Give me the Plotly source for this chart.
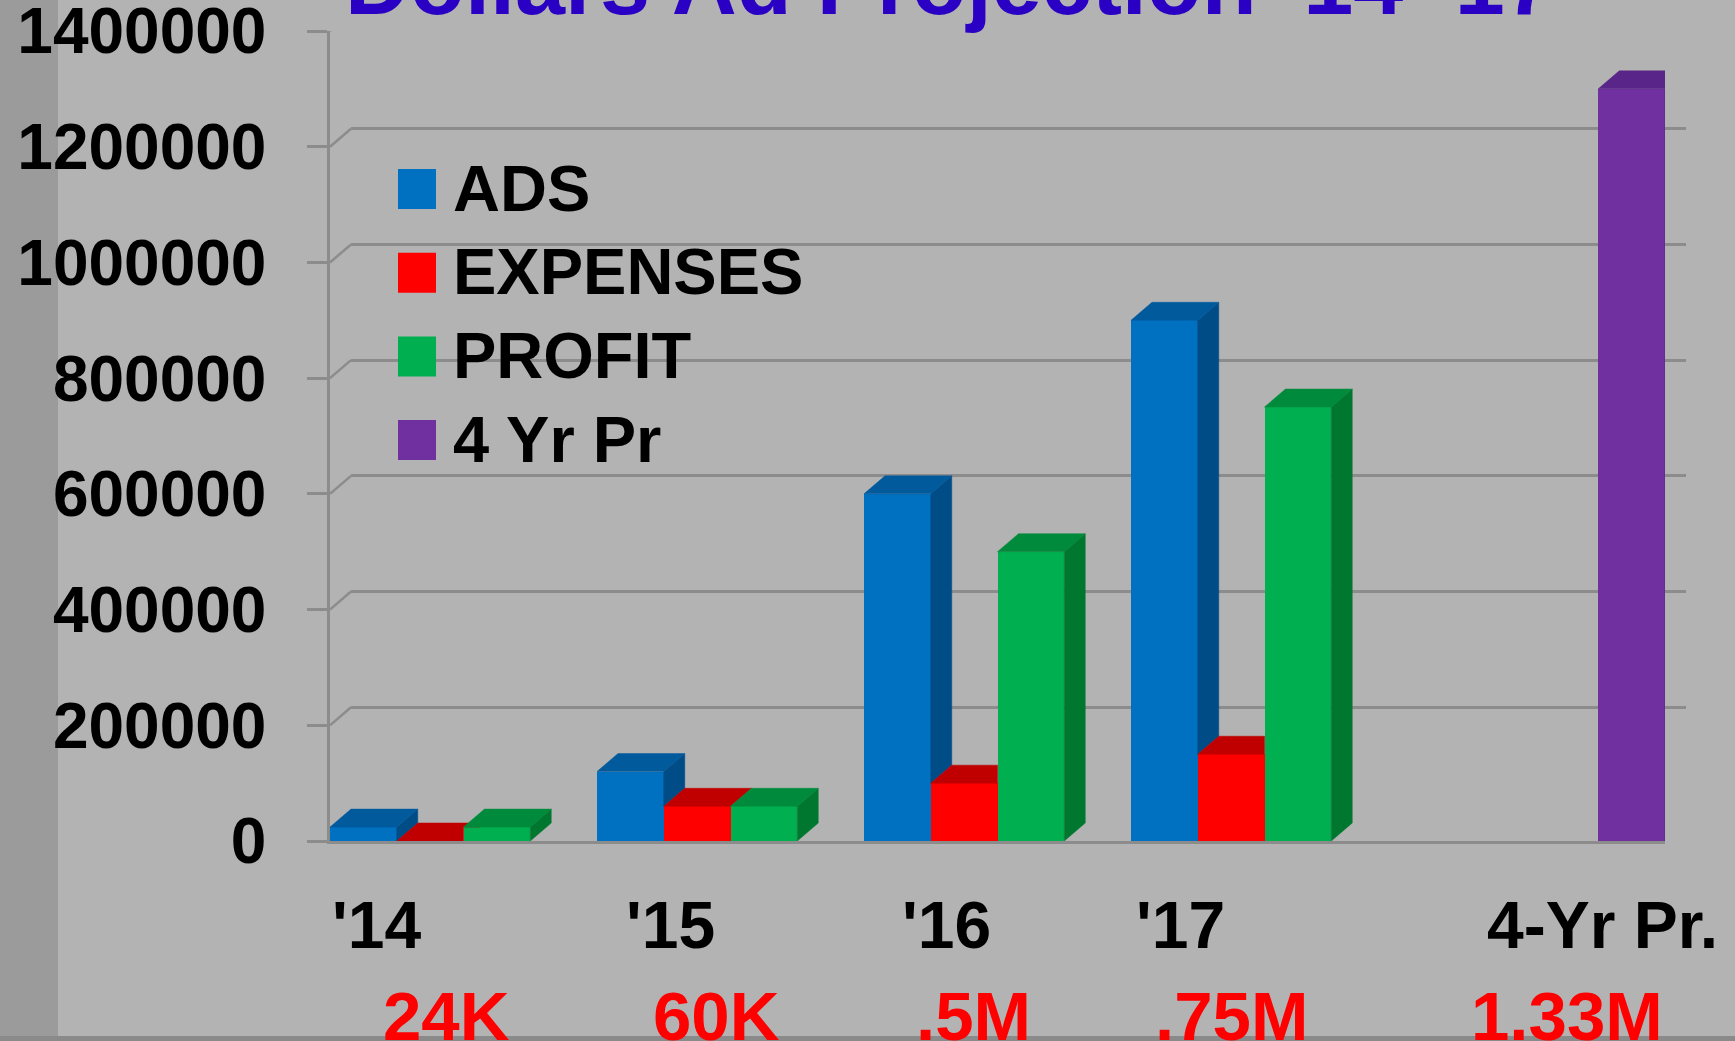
import plotly.graph_objects as go

# ---------------- data ----------------
categories = ["'14", "'15", "'16", "'17", "4-Yr Pr."]
series_names = ["ADS", "EXPENSES", "PROFIT", "4 Yr Pr"]
ads = [24000, 120000, 600000, 900000, None]
expenses = [0, 60000, 100000, 150000, None]
profit = [24000, 60000, 500000, 750000, None]
four_yr_pr = [None, None, None, None, 1300000]
profit_labels = ["24K", "60K", ".5M", ".75M", "1.33M"]
y_ticks = [0, 200000, 400000, 600000, 800000, 1000000, 1200000, 1400000]
title_text = "Dollars Ad Projection '14-'17"

# ---------------- styles / geometry ----------------
W, H = 1735, 1041
front_colors = ["#0070C0", "#FF0000", "#00B050", "#7030A0"]
top_colors = ["#005A9C", "#C00000", "#008A3C", "#5A2588"]
side_colors = ["#004C86", "#A00000", "#00772F", "#4A1E6E"]
GRID = "#8c8c8c"
BG = "#b3b3b3"
FONT = "Liberation Sans, Arial, sans-serif"

FRONT_X = (330, 1665)   # px of x range ends (front plane)
FRONT_Y = (841, 31)     # px of y=0 and y=YMAX (front plane)
DEPTH = (21, 18)        # 3-D depth offset in px (right, up)
YMAX = 1400000


def px(x):
    return x / W


def py(y):
    return (H - y) / H


ncat = len(categories)
nser = len(series_names)
slot = 1.0 / nser
ddx = DEPTH[0] / ((FRONT_X[1] - FRONT_X[0]) / ncat)
ddy = DEPTH[1] / ((FRONT_Y[0] - FRONT_Y[1]) / YMAX)
values = [ads, expenses, profit, four_yr_pr]
xs = list(range(ncat))

fig = go.Figure()

# dummy trace so the back-wall (grid) subplot exists
fig.add_trace(go.Scatter(x=[None], y=[None], xaxis="x", yaxis="y",
                         showlegend=False, hoverinfo="skip"))

# front faces
for s in range(nser):
    fig.add_trace(go.Bar(
        x=xs, y=values[s], name=series_names[s], xaxis="x2", yaxis="y2",
        marker=dict(color=front_colors[s], line=dict(width=0)),
        showlegend=False,
    ))

# side and top faces (drawn left-to-right inside each group)
for s in range(nser):
    sx, sy, tx, ty = [], [], [], []
    for c in range(ncat):
        v = values[s][c]
        if v is None:
            continue
        x0 = c - 0.5 + s * slot
        x1 = x0 + slot
        nxt = values[s + 1][c] if s + 1 < nser else None
        base = nxt if nxt is not None else 0
        if base < v:
            sx += [x1, x1 + ddx, x1 + ddx, x1, x1, None]
            sy += [base, base + ddy, v + ddy, v, base, None]
        h = nxt if nxt is not None else v
        h = min(max(h, v), v + ddy)
        pts = [(x0, v), (x1, v)]
        if h > v:
            pts.append((x1, h))
        if h < v + ddy:
            if h > v:
                pts.append((x1 + (h - v) / ddy * ddx, h))
            pts.append((x1 + ddx, v + ddy))
        pts.append((x0 + ddx, v + ddy))
        pts.append((x0, v))
        tx += [p[0] for p in pts] + [None]
        ty += [p[1] for p in pts] + [None]
    fig.add_trace(go.Scatter(x=sx, y=sy, xaxis="x2", yaxis="y2", mode="lines",
                             fill="toself", fillcolor=side_colors[s],
                             line=dict(color=side_colors[s], width=0.5),
                             showlegend=False, hoverinfo="skip"))
    fig.add_trace(go.Scatter(x=tx, y=ty, xaxis="x2", yaxis="y2", mode="lines",
                             fill="toself", fillcolor=top_colors[s],
                             line=dict(color=top_colors[s], width=0.5),
                             showlegend=False, hoverinfo="skip"))

shapes = []
# darker strip at left and bottom border
shapes.append(dict(type="rect", xref="paper", yref="paper", x0=0, x1=px(58), y0=0, y1=1,
                   fillcolor="#9b9b9b", line=dict(width=0), layer="below"))
shapes.append(dict(type="rect", xref="paper", yref="paper", x0=0, x1=1, y0=0, y1=py(1036),
                   fillcolor="#8a8a8a", line=dict(width=0), layer="above"))
# side-wall diagonals
for t in y_ticks:
    shapes.append(dict(type="line", xref="x2", yref="y2", x0=-0.5, y0=t,
                       x1=-0.5 + ddx, y1=t + ddy, line=dict(color=GRID, width=2.5),
                       layer="below"))

annotations = []
# title (cut off at the top, as in the original picture)
annotations.append(dict(text=title_text, xref="paper", yref="paper", x=px(343), y=py(-17),
                        xanchor="left", yanchor="middle", showarrow=False,
                        font=dict(family=FONT, size=90, color="#2A00C4", weight="bold")))
# category labels
cat_label_x = [376, 670, 946, 1180, 1602]
for lab, x in zip(categories, cat_label_x):
    annotations.append(dict(text=lab, xref="paper", yref="paper", x=px(x), y=py(925),
                            xanchor="center", yanchor="middle", showarrow=False,
                            font=dict(family=FONT, size=66, color="black", weight="bold")))
profit_label_x = [446, 716, 974, 1231, 1567]
for lab, x in zip(profit_labels, profit_label_x):
    annotations.append(dict(text=lab, xref="paper", yref="paper", x=px(x), y=py(1016),
                            xanchor="center", yanchor="middle", showarrow=False,
                            font=dict(family=FONT, size=69, color="#FF0000", weight="bold")))
# legend
for i, (nm, col) in enumerate(zip(series_names, front_colors)):
    cy = 189 + 83.7 * i
    shapes.append(dict(type="rect", xref="paper", yref="paper", x0=px(398), x1=px(436),
                       y0=py(cy + 20), y1=py(cy - 20), fillcolor=col, line=dict(width=0),
                       layer="above"))
    annotations.append(dict(text=nm, xref="paper", yref="paper", x=px(451), y=py(cy - 1),
                            xanchor="left", yanchor="middle", showarrow=False,
                            font=dict(family=FONT, size=65, color="black", weight="bold")))

fig.update_layout(
    template="none",
    width=W, height=H, autosize=False,
    margin=dict(l=0, r=0, t=0, b=0, pad=0),
    paper_bgcolor=BG, plot_bgcolor="rgba(0,0,0,0)",
    barmode="group", bargap=0, bargroupgap=0,
    showlegend=False,
    xaxis=dict(domain=[px(FRONT_X[0] + DEPTH[0]), px(FRONT_X[1] + DEPTH[0])],
               range=[-0.5, ncat - 0.5], showgrid=False, showticklabels=False,
               zeroline=False, showline=False, anchor="y", automargin=False, ticks=""),
    yaxis=dict(domain=[py(FRONT_Y[0] - DEPTH[1]), py(FRONT_Y[1] - DEPTH[1])],
               range=[0, YMAX], tickvals=y_ticks, showgrid=True, gridcolor=GRID,
               gridwidth=3, showticklabels=False, zeroline=False, showline=False,
               anchor="x", automargin=False, ticks=""),
    xaxis2=dict(domain=[px(FRONT_X[0]), px(FRONT_X[1])], range=[-0.5, ncat - 0.5],
                anchor="y2", showgrid=False, showticklabels=False, zeroline=False,
                showline=True, linecolor=GRID, linewidth=3, automargin=False, ticks=""),
    yaxis2=dict(domain=[py(FRONT_Y[0]), py(FRONT_Y[1])], range=[0, YMAX], anchor="x2",
                tickvals=y_ticks, tickformat="d", showgrid=False, zeroline=False,
                ticks="outside", ticklen=20, tickwidth=3, tickcolor=GRID,
                showline=True, linecolor=GRID, linewidth=2.5, automargin=False,
                ticklabelstandoff=28, ticklabeloverflow="allow",
                tickfont=dict(family=FONT, size=64, color="black", weight="bold")),
    shapes=shapes,
    annotations=annotations,
)

page_fix = (
    "document.documentElement.style.margin='0';"
    "document.documentElement.style.padding='0';"
    "document.documentElement.style.overflow='hidden';"
    "document.body.style.margin='0';"
    "document.body.style.padding='0';"
    "document.body.style.overflow='hidden';"
    "document.body.style.background='" + BG + "';"
)

fig.write_html("out.html", post_script=page_fix,
               config={"displayModeBar": False, "responsive": False})
